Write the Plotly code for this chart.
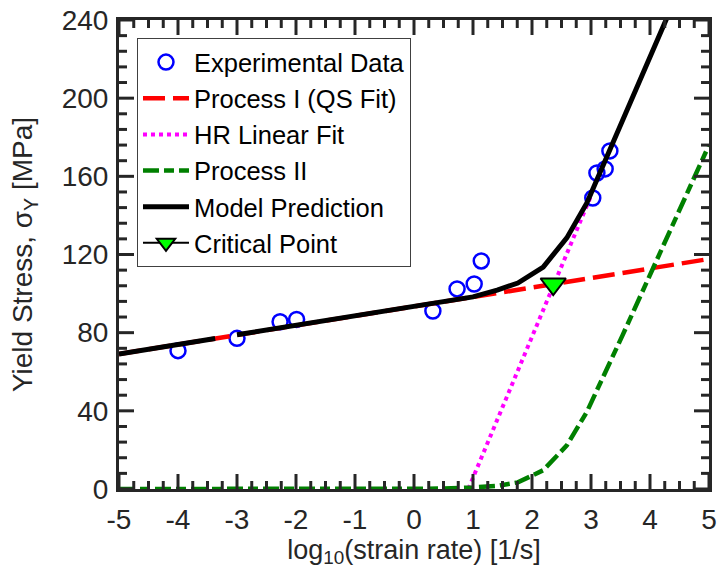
import plotly.graph_objects as go

# ---------------- data ----------------
exp_x = [-4.0, -3.0, -2.27, -1.99, 0.32, 0.73, 1.02, 1.14, 3.03, 3.10, 3.24, 3.32]
exp_y = [70.8, 77.1, 85.6, 86.8, 91.1, 102.4, 104.9, 116.7, 148.9, 161.7, 163.8, 173.0]

qs_x = [-5.0, 5.0]
qs_y = [69.1, 117.7]

hr_x = [0.92, 3.0]
hr_y = [0.0, 150.0]

p2_x = [-5.0, 0.0, 0.5, 1.0, 1.41, 1.76, 2.19, 2.59, 2.93, 3.54, 4.12, 5.0]
p2_y = [0.0, 0.0, 0.2, 0.8, 1.6, 3.4, 9.6, 22.3, 39.5, 79.0, 117.5, 176.0]

model_x = [-5.0, -3.37, None, -3.0, 1.0, 1.41, 1.76, 2.19, 2.59, 2.93, 3.54, 4.30]
model_y = [69.1, 77.0, None, 78.9, 98.3, 101.8, 105.4, 113.6, 128.5, 146.4, 188.8, 242.0]

crit_x = [2.36]
crit_y = [104.9]

x_ticks = [-5, -4, -3, -2, -1, 0, 1, 2, 3, 4, 5]
y_ticks = [0, 40, 80, 120, 160, 200, 240]
X_MINOR_PER_MAJOR = 4   # minor step 0.25
Y_MINOR_PER_MAJOR = 5   # minor step 8

FONT = "Liberation Sans, Arial, Helvetica, sans-serif"
AX = "#262626"

fig = go.Figure()
fig.add_trace(go.Scatter(
    x=exp_x, y=exp_y, mode="markers", name="Experimental Data",
    marker=dict(symbol="circle-open", size=15, color="#0000FF",
                line=dict(width=2.5, color="#0000FF")),
    legendgroup="a"))
fig.add_trace(go.Scatter(
    x=qs_x, y=qs_y, mode="lines", name="Process I (QS Fit)",
    line=dict(color="#FF0000", width=4.5, dash="22px,8px"), legendgroup="b"))
fig.add_trace(go.Scatter(
    x=hr_x, y=hr_y, mode="lines", name="HR Linear Fit",
    line=dict(color="#FF00FF", width=4, dash="dot"), legendgroup="c"))
fig.add_trace(go.Scatter(
    x=p2_x, y=p2_y, mode="lines", name="Process II",
    line=dict(color="#008000", width=4.5, dash="16px,5px,10px,5px"), legendgroup="d"))
fig.add_trace(go.Scatter(
    x=model_x, y=model_y, mode="lines", name="Model Prediction",
    line=dict(color="#000000", width=5), connectgaps=False, legendgroup="e"))
fig.add_trace(go.Scatter(
    x=crit_x, y=crit_y, mode="lines+markers", name="Critical Point",
    line=dict(color="#000000", width=2),
    marker=dict(symbol="triangle-down", size=22, color="#00FF00",
                line=dict(width=2, color="#000000")),
    legendgroup="f"))

# ---- inward tick marks on all four sides (axis decoration built from the tick lists) ----
def tick_positions(major, n_sub):
    majors, minors = list(major), []
    for a, b in zip(major[:-1], major[1:]):
        step = (b - a) / n_sub
        minors += [a + step * k for k in range(1, n_sub)]
    return majors, minors

xmaj, xmin = tick_positions(x_ticks, X_MINOR_PER_MAJOR)
ymaj, ymin = tick_positions(y_ticks, Y_MINOR_PER_MAJOR)
tick_line = dict(color=AX, width=3)
shapes = []
for vals, ln in ((xmaj, 15), (xmin, 8)):
    for v in vals:
        for anchor, sign in ((0, 1), (1, -1)):
            shapes.append(dict(type="line", xref="x", x0=v, x1=v,
                               yref="y domain", ysizemode="pixel", yanchor=anchor,
                               y0=0, y1=sign * ln, line=tick_line, layer="above"))
for vals, ln in ((ymaj, 15), (ymin, 8)):
    for v in vals:
        for anchor, sign in ((0, 1), (1, -1)):
            shapes.append(dict(type="line", yref="y", y0=v, y1=v,
                               xref="x domain", xsizemode="pixel", xanchor=anchor,
                               x0=0, x1=sign * ln, line=tick_line, layer="above"))

fig.update_layout(
    template="none",
    width=718, height=575,
    margin=dict(l=119, r=9, t=20, b=86),
    paper_bgcolor="white", plot_bgcolor="white",
    font=dict(family=FONT, color=AX),
    shapes=shapes,
    xaxis=dict(
        range=[-5, 5], tickvals=x_ticks, ticktext=[str(v) for v in x_ticks],
        showline=True, linecolor=AX, linewidth=3, mirror=True, ticks="",
        showgrid=False, zeroline=False, automargin=False,
        tickfont=dict(family=FONT, size=28, color=AX),
        ticklabelstandoff=3,
        title=dict(text="log<sub>10</sub>(strain rate) [1/s]", font=dict(family=FONT, size=27, color=AX), standoff=2),
    ),
    yaxis=dict(
        range=[0, 240], tickvals=y_ticks, ticktext=[str(v) for v in y_ticks],
        showline=True, linecolor=AX, linewidth=3, mirror=True, ticks="",
        showgrid=False, zeroline=False, automargin=False,
        tickfont=dict(family=FONT, size=28, color=AX),
        ticklabelstandoff=2,
        title=dict(text="Yield Stress, σ<sub>Y</sub> [MPa]", font=dict(family=FONT, size=28, color=AX), standoff=21),
    ),
    legend=dict(
        x=0.0305, y=0.9616, xanchor="left", yanchor="top",
        bgcolor="white", bordercolor="#404040", borderwidth=1,
        font=dict(family=FONT, size=25.5, color="#000000"),
        traceorder="grouped", tracegroupgap=0, itemwidth=46,
    ),
    showlegend=True,
)

fig.write_html("out.html", config={"displayModeBar": False},
               post_script="document.body.style.margin='0';document.body.style.padding='0';")
